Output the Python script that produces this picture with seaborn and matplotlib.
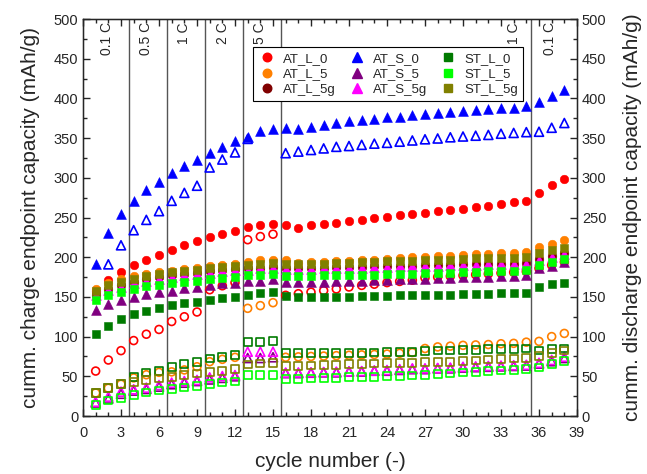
import numpy as np
import pandas as pd
import matplotlib
matplotlib.use("Agg")
import matplotlib.pyplot as plt
import seaborn as sns
from matplotlib.lines import Line2D
from matplotlib.ticker import MultipleLocator

nan = np.nan
cycles = list(range(1, 39))

at_l_0_ch = [157, 171, 181, 190, 197, 203, 209, 215, 220, 225,
             229, 233, 238, 240, 242, 240, 237, 240, 242, 243,
             245, 247, 249, 251, 253, 255, 256, 258, 260, 261,
             263, 265, 267, 269, 271, 281, 291, 299]
at_l_0_dis = [56.6, 70.5, 82.3, 95, 103, 109, 119, 125, 131, 159,
              164, 168, 222, 226, 229, 152, 154, 156, 158, 160,
              162.5, 164.5, 166, 168, 169.5, 171, 174, 175, 176, 177,
              178, 179, 180, 181, 182, 186, 190, 194]
at_l_5_ch = [160, 167, 172, 176, 179, 181, 183, 185, 187, 189,
             190, 192, 194, 196, 197, 197, 193, 193.5, 194, 195,
             195.5, 196, 197, 198, 199, 200, 200, 201, 202, 203,
             203.5, 204, 205, 205, 206, 213, 217, 222]
at_l_5_dis = [29, 35, 40, 48, 52, 55, 55.6, 58, 62, 68.4,
              71.4, 73.9, 135.6, 139, 142.7, 74, 74.5, 75, 75.5, 76,
              76.5, 77, 77.5, 78, 79, 80, 85, 87, 88, 89,
              89.5, 90, 91, 91.5, 93, 94, 100, 104]
at_l_5g_ch = [152, 160, 165, 169, 172, 175, 177, 179, 180.5, 182,
              183.5, 185, 186, 187, 188, 186, 186, 186.5, 187, 187.5,
              188, 188, 188.5, 189, 189, 189.5, 190, 190, 190.5, 191,
              191, 191.5, 192, 192, 192.5, 198, 201, 205]
at_s_0_ch = [191, 230, 254, 271, 285, 295, 306, 314.5, 323, 331,
             339, 346, 352, 359, 362, 362.5, 361, 364, 366.7, 368.8,
             371, 373, 374, 376, 377, 379, 380.5, 382, 383, 384.6,
             385.5, 386.5, 387.5, 388.5, 390, 396, 403, 410]
at_s_0_dis = [nan, 191, 215, 234, 247, 258, 271, 281, 290, 313,
              323, 332, 349, nan, nan, 331, 333, 335, 337, 339,
              340, 341.5, 343, 344, 345.5, 347, 348.5, 349.5, 351, 352,
              353, 354, 355.5, 356.5, 357.5, 358, 363, 369]
at_s_5_ch = [133.5, 141, 146, 150.5, 154, 156.5, 158, 161, 163, 165,
             167, 168, 169.5, 170.5, 172, 168.5, 168.5, 169, 169, 169.5,
             170, 170.5, 171, 171.5, 172, 172.5, 173, 173.5, 174, 174.5,
             175, 175.5, 176, 176.5, 177, 187, 189, 194]
at_s_5_dis = [17, 22, 28, 32, 34, 37, 40, 42, 44, 46,
              48, 50, 73, 73, 74, 54, 54, 54.5, 55, 55,
              56, 56, 57, 57, 58, 59, 59, 60, 60, 61,
              61.5, 62, 62.5, 63, 63.5, 66, 69, 73]
at_s_5g_ch = [152, 159, 163, 167, 170, 172.5, 175, 177.5, 179, 180.5,
              182, 183.5, 184.5, 186, 187, 185, 185, 185.5, 186, 186,
              186.5, 187, 187.5, 188, 188.5, 188.5, 189, 189.5, 190, 190,
              190.5, 191, 191, 191.5, 192, 196.5, 200, 204]
at_s_5g_dis = [18, 24.4, 30.7, 33.6, 35.7, 39, 42, 44, 45.4, 48.7,
               50.3, 51.6, 81, 81, 81, 54.6, 54.8, 55, 55.4, 55.8,
               56.2, 56.6, 57.2, 57.9, 59, 60, 60, 60.5, 61, 62,
               62.5, 63, 63.5, 64, 64.5, 67, 70.6, 74.7]
st_l_0_ch = [103, 113.5, 122, 128.5, 132.5, 136, 139.5, 142, 144, 146,
             148, 150, 152.4, 154.5, 155.8, 151, 149.5, 149.5, 150, 150,
             150.5, 151, 151, 151.5, 152, 152, 152.4, 152.4, 152.6, 153.4,
             153.6, 153.8, 154.5, 154.7, 155.3, 163, 166.5, 168]
st_l_0_dis = [29, 35, 40, 49.5, 54.6, 57, 62, 65.5, 67.6, 72.6,
              74.7, 76.8, 93.6, 93.6, 94.5, 79, 79, 79, 79, 79,
              79.7, 79.7, 80, 81, 81, 81, 82, 82.3, 82.5, 83.2,
              83.5, 84, 84.5, 84.8, 85, 82.4, 84, 85]
st_l_5_ch = [145.5, 152.5, 156.5, 160, 163.5, 165, 167, 169, 170.5, 172.5,
             173.7, 175, 177.3, 177.6, 178.8, 176.4, 176.4, 176.8, 177, 177.2,
             177.5, 177.8, 178, 178.3, 178.6, 179, 179.5, 180, 180.5, 181,
             181.5, 182, 182.5, 183, 183.5, 190, 194, 198]
st_l_5_dis = [13.9, 19.4, 23, 26.5, 29.4, 32, 33.6, 35.7, 38, 40,
              42, 43.3, 52, 51.5, 52, 46.6, 46.6, 47.4, 47.8, 48.2,
              48.7, 49, 49.5, 50.3, 50.6, 51, 52, 52.5, 53.5, 54.6,
              55.5, 56.5, 57.5, 58, 58.8, 61, 65.5, 69.6]
st_l_5g_ch = [157.5, 165, 169, 173, 176.4, 179, 181, 183, 184.5, 186,
              187.5, 189, 190, 192, 193, 191.4, 191, 192, 192, 193,
              193, 194, 194, 194.8, 195, 195.5, 196, 196.6, 197, 197.5,
              198.5, 199, 199.5, 199.5, 200, 205.6, 209, 212]
st_l_5g_dis = [29, 35, 40, 42.4, 45.4, 47.4, 49.5, 51.6, 53.7, 55,
               56.6, 58.8, 65, 66.3, 67, 63, 63, 63.5, 64, 64.5,
               65.5, 65.5, 66.3, 66.5, 67, 67, 67.6, 68, 68.4, 69.3,
               70, 71, 71.5, 72.3, 73, 75.5, 79, 82.4]

series_names = ["AT_L_0", "AT_L_5", "AT_L_5g", "AT_S_0", "AT_S_5", "AT_S_5g",
                "ST_L_0", "ST_L_5", "ST_L_5g"]
charge = [at_l_0_ch, at_l_5_ch, at_l_5g_ch, at_s_0_ch, at_s_5_ch, at_s_5g_ch,
          st_l_0_ch, st_l_5_ch, st_l_5g_ch]
discharge = [at_l_0_dis, at_l_5_dis, None, at_s_0_dis, at_s_5_dis, at_s_5g_dis,
             st_l_0_dis, st_l_5_dis, st_l_5g_dis]
colors = ["#ff0000", "#ff8000", "#800000", "#0000ff", "#800080", "#ff00ff",
          "#007a00", "#00ff00", "#808000"]
markers = ["o", "o", "o", "^", "^", "^", "s", "s", "s"]
sizes = [38, 38, 38, 50, 50, 50, 36, 36, 36]

rate_bounds = [3.6, 6.6, 9.6, 12.6, 15.6, 35.4]
rate_labels = ["0.1 C", "0.5 C", "1 C", "2 C", "5 C", "1 C", "0.1 C"]
rate_label_x = [1.9, 5.0, 8.0, 11.05, 14.0, 34.0, 36.9]

sns.set_style("ticks")
plt.rcParams["font.family"] = ["Liberation Sans", "DejaVu Sans"]

fig = plt.figure(figsize=(6.47, 4.74), dpi=100)
ax = fig.add_axes([83 / 647, 1 - 416 / 474, 494 / 647, 397 / 474])

for xb in rate_bounds:
    ax.axvline(xb, color="#555555", lw=1.0, zorder=1)

for name, ch, dis, c, m, s in zip(series_names, charge, discharge, colors, markers, sizes):
    df = pd.DataFrame({"cycle": cycles, "charge": ch})
    sns.scatterplot(data=df, x="cycle", y="charge", marker=m, s=s, color=c,
                    edgecolor=c, linewidth=0.4, ax=ax, legend=False, zorder=3)
    if dis is not None:
        dd = pd.DataFrame({"cycle": cycles, "discharge": dis})
        sns.scatterplot(data=dd, x="cycle", y="discharge", marker=m, s=s * 0.85,
                        color=c, facecolor="none", edgecolor=c, linewidth=1.2,
                        ax=ax, legend=False, zorder=3)

for lx, lt in zip(rate_label_x, rate_labels):
    ax.text(lx, 496, lt, rotation=90, ha="center", va="top", fontsize=10)

ax.set_xlim(0, 39)
ax.set_ylim(0, 500)
ax.xaxis.set_major_locator(MultipleLocator(3))
ax.xaxis.set_minor_locator(MultipleLocator(1))
ax.yaxis.set_major_locator(MultipleLocator(50))
ax.yaxis.set_minor_locator(MultipleLocator(25))
ax.tick_params(which="both", direction="in", top=True, right=False, labelsize=10.5)
ax.tick_params(which="major", length=5, width=1)
ax.tick_params(which="minor", length=3, width=1)
ax.tick_params(axis="x", which="major", pad=7.5)
ax.set_xlabel("cycle number (-)", fontsize=15, labelpad=8)
ax.set_ylabel("cumm. charge endpoint capacity (mAh/g)", fontsize=15, labelpad=10)
for sp in ax.spines.values():
    sp.set_linewidth(1.0)
    sp.set_color("black")

ax2 = ax.twinx()
ax2.set_ylim(0, 500)
ax2.yaxis.set_major_locator(MultipleLocator(50))
ax2.yaxis.set_minor_locator(MultipleLocator(25))
ax2.tick_params(which="both", direction="in", labelsize=10.5)
ax2.tick_params(which="major", length=5, width=1)
ax2.tick_params(which="minor", length=3, width=1)
ax2.set_ylabel("cumm. discharge endpoint capacity (mAh/g)", fontsize=15, labelpad=12)

handles = [Line2D([], [], linestyle="", marker=m, color=c, markersize=np.sqrt(s))
           for c, m, s in zip(colors, markers, sizes)]
leg = ax2.legend(handles, series_names, ncol=3, loc="upper left",
                 bbox_to_anchor=(0.344, 0.929), fontsize=9.5, frameon=True,
                 fancybox=False, edgecolor="black", framealpha=1,
                 handlelength=1.4, handletextpad=0.5, columnspacing=0.9,
                 labelspacing=0.25, borderpad=0.4, borderaxespad=0)
leg.get_frame().set_linewidth(0.8)

fig.savefig("out.png", dpi=100)
